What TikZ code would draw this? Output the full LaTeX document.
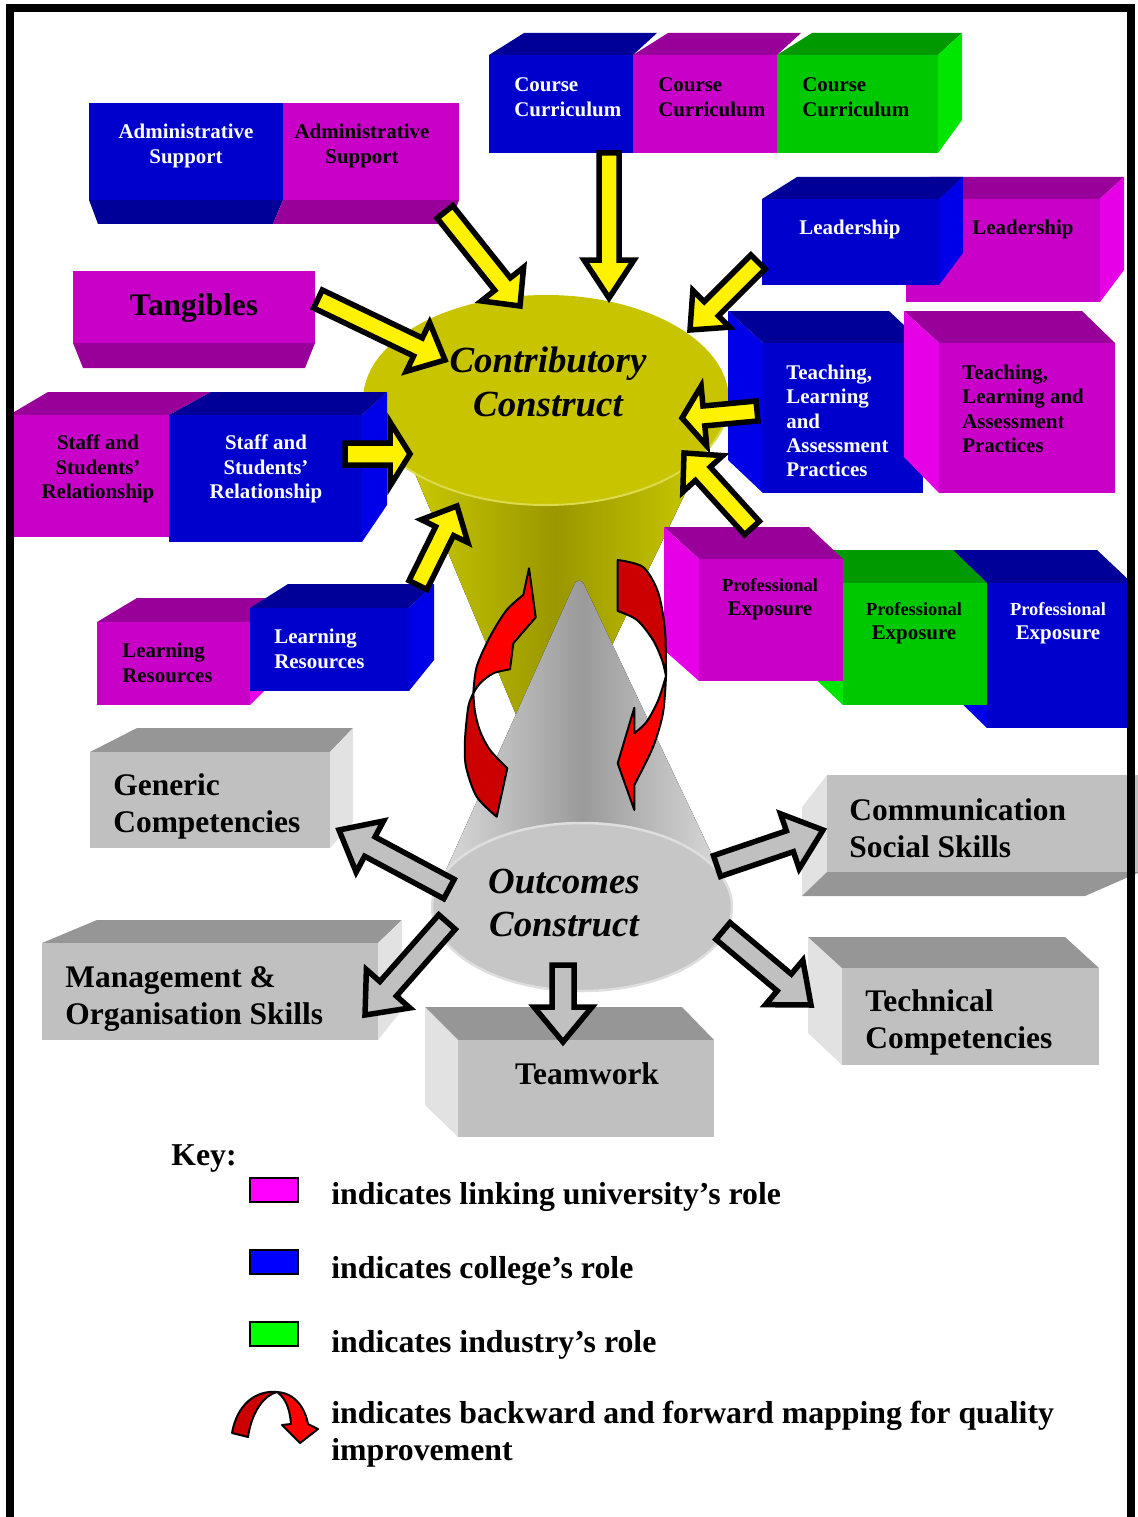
\documentclass[tikz,border=0pt]{standalone}
\usepackage{fontspec}
\setmainfont{Liberation Serif}
\usetikzlibrary{calc}

\definecolor{bFront}{HTML}{0000CC}
\definecolor{bTop}{HTML}{000099}
\definecolor{bSide}{HTML}{0000E8}
\definecolor{mFront}{HTML}{C800C8}
\definecolor{mTop}{HTML}{990099}
\definecolor{mSide}{HTML}{E600E6}
\definecolor{gFront}{HTML}{00C800}
\definecolor{gTop}{HTML}{009900}
\definecolor{gSide}{HTML}{00E600}
\definecolor{sFront}{HTML}{C0C0C0}
\definecolor{sTop}{HTML}{969696}
\definecolor{sSide}{HTML}{E2E2E2}
\definecolor{yTop}{HTML}{C8C400}
\definecolor{yEdge}{HTML}{CCCC00}
\definecolor{yMid}{HTML}{9A9700}
\definecolor{cEdge}{HTML}{DEDEDE}
\definecolor{cMid}{HTML}{9A9A9A}
\definecolor{cBase}{HTML}{C6C6C6}
\definecolor{rDark}{HTML}{CC0000}
\definecolor{rLite}{HTML}{FF0000}
\definecolor{keyM}{HTML}{FF00FF}
\definecolor{keyB}{HTML}{0000FF}
\definecolor{keyG}{HTML}{00FF00}

% block arrow: style, tail, tip, shaft half width, head half width, head length
\newcommand{\bkarrow}[6]{%
  \path ($(#3)!#6!(#2)$) coordinate (hb);
  \draw[#1] ($(#2)!#4!90:(#3)$) -- ($(hb)!#4!90:(#3)$) -- ($(hb)!#5!90:(#3)$) -- (#3)
    -- ($(hb)!#5!-90:(#3)$) -- ($(hb)!#4!-90:(#3)$) -- ($(#2)!#4!-90:(#3)$) -- cycle;}

\begin{document}
\begin{tikzpicture}[x=0.02cm,y=-0.02cm,
  lbl/.style={inner sep=0pt,font=\fontsize{11.9}{13.9}\selectfont\bfseries},
  lblW/.style={lbl,text=white},
  glbl/.style={inner sep=0pt,anchor=west,align=left,font=\fontsize{17.9}{21}\selectfont\bfseries},
  conetext/.style={inner sep=0pt,align=center,font=\fontsize{21}{25}\selectfont\bfseries\itshape},
  keyline/.style={inner sep=0pt,anchor=west,align=left,font=\fontsize{18.1}{21}\selectfont\bfseries},
  yarr/.style={draw=black,fill=yellow,line width=0.11cm},
  garr/.style={draw=black,fill=sFront,line width=0.11cm},
  ribbon/.style={draw=black,line width=0.04cm,line join=round}]
\useasboundingbox (0,0) rectangle (1137,1517);

% contributory cone
\fill[left color=yEdge,right color=yEdge,middle color=yMid] (401,440) -- (545,784) -- (711,440) -- cycle;
\fill[yTop] (546,400) ellipse [x radius=183,y radius=105];
\draw[yEdge!70!white,line width=0.04cm] (729,400) arc [start angle=0,end angle=180,x radius=183,y radius=105];

% administrative support
\fill[bTop] (89,200) -- (283,200) -- (273,224) -- (98,224) -- cycle;
\fill[mTop] (283,200) -- (459,200) -- (450,224) -- (273,224) -- cycle;
\fill[bFront] (89,103) rectangle (283,200);
\fill[mFront] (283,103) rectangle (459,200);
\node[lblW,align=center] (admC) at (186,146) {Administrative\\Support};
\node[lbl,align=center] (admU) at (362,146) {Administrative\\Support};

% tangibles
\fill[mTop] (73,343) -- (315,343) -- (305,368) -- (83,368) -- cycle;
\fill[mFront] (73,271) rectangle (315,343);
\node[lbl,font=\fontsize{17.9}{21}\selectfont\bfseries] (tang) at (194,308) {Tangibles};

% course curriculum
\foreach \x/\w/\col/\t [count=\i] in {489/144/b/white,633/144/m/black,777/161/g/black}{
  \fill[\col Top] (\x,55) -- (\x+35,33) -- (\x+\w+24,33) -- (\x+\w,55) -- cycle;
  \fill[\col Front] (\x,55) rectangle (\x+\w,153);
  \node[lbl,text=\t,align=left,anchor=west] (course\i) at (\x+25,97) {Course\\Curriculum};
}
\fill[gSide] (938,55) -- (962,33) -- (962,120) -- (938,153) -- cycle;

% leadership
\fill[mTop] (930,177) -- (1124,177) -- (1100,199) -- (906,199) -- cycle;
\fill[mSide] (1100,199) -- (1124,177) -- (1124,270) -- (1100,302) -- cycle;
\fill[mFront] (906,199) rectangle (1100,302);
\fill[bTop] (762,199) -- (797,177) -- (963,177) -- (939,199) -- cycle;
\fill[bSide] (939,199) -- (963,177) -- (963,253) -- (939,285) -- cycle;
\fill[bFront] (762,199) rectangle (939,285);
\node[lblW] (leadC) at (850,229) {Leadership};
\node[lbl] (leadU) at (1023,229) {Leadership};

% teaching, learning and assessment
\fill[bTop] (728,311) -- (889,311) -- (923,343) -- (763,343) -- cycle;
\fill[bSide] (728,311) -- (763,343) -- (763,493) -- (728,460) -- cycle;
\fill[bFront] (763,343) rectangle (923,493);
\fill[mTop] (904,311) -- (1082,311) -- (1115,343) -- (939,343) -- cycle;
\fill[mSide] (904,311) -- (939,343) -- (939,493) -- (904,457) -- cycle;
\fill[mFront] (939,343) rectangle (1115,493);
\node[lblW,align=left,anchor=west] (teachC) at (786,421) {Teaching,\\Learning\\and\\Assessment\\Practices};
\node[lbl,align=left,anchor=west] (teachU) at (962,409) {Teaching,\\Learning and\\Assessment\\Practices};

% staff and students
\fill[mTop] (9,415) -- (48,392) -- (211,392) -- (169,415) -- cycle;
\fill[mFront] (9,415) rectangle (169,537);
\fill[bTop] (169,415) -- (211,392) -- (387,392) -- (362,415) -- cycle;
\fill[bSide] (362,415) -- (387,392) -- (387,505) -- (362,542) -- cycle;
\fill[bFront] (169,415) rectangle (362,542);
\node[lbl,align=center] (staffU) at (98,469) {Staff and\\Students’\\Relationship};
\node[lblW,align=center] (staffC) at (266,469) {Staff and\\Students’\\Relationship};

% learning resources
\fill[mTop] (97,622) -- (137,598) -- (288,598) -- (250,622) -- cycle;
\fill[mSide] (250,622) -- (275,598) -- (275,680) -- (250,705) -- cycle;
\fill[mFront] (97,622) rectangle (250,705);
\fill[bTop] (250,608) -- (288,584) -- (434,584) -- (409,608) -- cycle;
\fill[bSide] (409,608) -- (434,584) -- (434,660) -- (409,691) -- cycle;
\fill[bFront] (250,608) rectangle (409,691);
\node[lbl,align=left,anchor=west] (learnU) at (122,663) {Learning\\Resources};
\node[lblW,align=left,anchor=west] (learnC) at (274,649) {Learning\\Resources};

% professional exposure
\fill[bTop] (953,550) -- (1097,550) -- (1132,583) -- (987,583) -- cycle;
\fill[bSide] (953,550) -- (987,583) -- (987,728) -- (953,695) -- cycle;
\fill[bFront] (987,583) rectangle (1132,728);
\fill[gTop] (808,550) -- (953,550) -- (987,583) -- (843,583) -- cycle;
\fill[gSide] (808,550) -- (843,583) -- (843,705) -- (808,672) -- cycle;
\fill[gFront] (843,583) rectangle (987,705);
\fill[mTop] (664,527) -- (809,527) -- (843,559) -- (699,559) -- cycle;
\fill[mSide] (664,527) -- (699,559) -- (699,681) -- (664,650) -- cycle;
\fill[mFront] (699,559) rectangle (843,681);
\node[lbl,align=center] (profU) at (770,599) {{\fontsize{10.5}{13.9}\selectfont Professional}\\Exposure};
\node[lbl,align=center] (profI) at (914,623) {{\fontsize{10.5}{13.9}\selectfont Professional}\\Exposure};
\node[lblW,align=center] (profC) at (1058,623) {{\fontsize{10.5}{13.9}\selectfont Professional}\\Exposure};

% outcomes cone
\fill[left color=cEdge,right color=cEdge,middle color=cMid,rounded corners=0.25cm] (433,899) -- (579,574) -- (733,899) -- cycle;
\fill[cBase] (582,907) ellipse [x radius=150,y radius=84];
\draw[cEdge,line width=0.05cm] (582,907) ellipse [x radius=150,y radius=84];

% outcome boxes
\fill[sTop] (90,752) -- (137,728) -- (353,728) -- (330,752) -- cycle;
\fill[sSide] (330,752) -- (353,728) -- (353,822) -- (330,848) -- cycle;
\fill[sFront] (90,752) rectangle (330,848);
\node[glbl] (generic) at (113,806) {Generic\\Competencies};

\fill[sTop] (42,943) -- (97,920) -- (402,920) -- (378,943) -- cycle;
\fill[sSide] (378,943) -- (402,920) -- (402,1010) -- (378,1040) -- cycle;
\fill[sFront] (42,943) rectangle (378,1040);
\node[glbl] (manage) at (65,999) {Management \&\\Organisation Skills};

\fill[sTop] (425,1007) -- (682,1007) -- (714,1040) -- (458,1040) -- cycle;
\fill[sSide] (425,1007) -- (458,1040) -- (458,1137) -- (425,1105) -- cycle;
\fill[sFront] (458,1040) rectangle (714,1137);
\node[glbl,anchor=center] (team) at (587,1074) {Teamwork};

\fill[sSide] (802,807) -- (827,775) -- (827,872) -- (802,896) -- cycle;
\fill[sTop] (802,896) -- (827,872) -- (1140,872) -- (1085,896) -- cycle;
\fill[sFront] (827,775) rectangle (1140,872);
\node[glbl] (commun) at (849,828) {Communication\\Social Skills};

\fill[sSide] (808,937) -- (842,968) -- (842,1065) -- (808,1033) -- cycle;
\fill[sTop] (808,937) -- (1065,937) -- (1099,968) -- (842,968) -- cycle;
\fill[sFront] (842,968) rectangle (1099,1065);
\node[glbl] (techn) at (865,1022) {Technical\\Competencies};

% mapping ribbons
\filldraw[ribbon,fill=rDark] plot[smooth] coordinates {(496.7,816.7) (476.7,796.7) (466,766.7) (465,740) (468.3,706.7) (473.3,693.3)}
  -- plot[smooth] coordinates {(473.3,693.3) (475,712) (480,731) (490,750) (507.3,768.3)} -- cycle;
\filldraw[ribbon,fill=rLite] plot[smooth] coordinates {(473.3,693.3) (476.7,666.7) (490,636.7) (506.7,610) (523.3,595)}
  -- (529,568.3) -- (535.7,617.3) -- (513.3,643.3) -- (510,669.3)
  -- plot[smooth] coordinates {(510,669.3) (493.3,673.3) (480,683.3) (473.3,693.3)} -- cycle;
\filldraw[ribbon,fill=rDark] plot[smooth] coordinates {(617.7,560) (643,567) (658,592) (665,630) (666,676)}
  -- plot[smooth] coordinates {(666,676) (662,660) (653,640) (637,620) (617.7,611)} -- cycle;
\filldraw[ribbon,fill=rLite] plot[smooth] coordinates {(666,676) (663,713) (653,747) (634.3,785)}
  -- (634.3,810) -- (617.7,763.3) -- (634.3,707.7) -- (634.3,733.3)
  -- plot[smooth] coordinates {(634.3,733.3) (646.7,721.7) (658.3,700) (666,676)} -- cycle;

% arrows into the contributory construct
\coordinate (aAdm) at (445,212);   \coordinate (tAdm) at (520,306);
\coordinate (aCour) at (609,153);  \coordinate (tCour) at (609,298);
\coordinate (aLead) at (758,262);  \coordinate (tLead) at (690,330);
\coordinate (aTang) at (318,299);  \coordinate (tTang) at (445,360);
\coordinate (aTeach) at (757,411); \coordinate (tTeach) at (682,418);
\coordinate (aProf) at (752,528);  \coordinate (tProf) at (684,453);
\coordinate (aStaff) at (345,454); \coordinate (tStaff) at (410,454);
\coordinate (aLearn) at (418,585); \coordinate (tLearn) at (457,506);
\bkarrow{yarr}{aAdm}{tAdm}{0.2cm}{0.54cm}{0.56cm}
\bkarrow{yarr}{aCour}{tCour}{0.2cm}{0.5cm}{0.76cm}
\bkarrow{yarr}{aLead}{tLead}{0.2cm}{0.52cm}{0.6cm}
\bkarrow{yarr}{aTang}{tTang}{0.2cm}{0.54cm}{0.6cm}
\bkarrow{yarr}{aTeach}{tTeach}{0.2cm}{0.6cm}{0.44cm}
\bkarrow{yarr}{aProf}{tProf}{0.2cm}{0.54cm}{0.56cm}
\bkarrow{yarr}{aStaff}{tStaff}{0.22cm}{0.64cm}{0.4cm}
\bkarrow{yarr}{aLearn}{tLearn}{0.2cm}{0.52cm}{0.56cm}

% arrows out of the outcomes construct
\coordinate (oGen) at (449,889);   \coordinate (pGen) at (339,830);
\coordinate (oMan) at (447,922);   \coordinate (pMan) at (365,1015);
\coordinate (oTeam) at (563,965);  \coordinate (pTeam) at (563,1042);
\coordinate (oCom) at (717,866);   \coordinate (pCom) at (823,830);
\coordinate (oTec) at (723,931);   \coordinate (pTec) at (811,1005);
\foreach \a/\b in {oGen/pGen,oMan/pMan,oTeam/pTeam,oCom/pCom,oTec/pTec}
  \bkarrow{garr}{\a}{\b}{0.22cm}{0.58cm}{0.7cm};

\node[conetext] (contrib) at (548,382) {Contributory\\Construct};
\node[conetext] (outcome) at (564,903) {Outcomes\\Construct};

% key
\node[keyline] (key) at (171,1159) {Key:};
\foreach \y/\col/\t [count=\i] in {1190/keyM/linking university’s role,1262/keyB/college’s role,1334/keyG/industry’s role}{
  \filldraw[fill=\col,draw=black,line width=0.03cm] (250,\y-12) rectangle (298,\y+12);
  \node[keyline] (key\i) at (331,\y+\i*2+5) {indicates \t};
}
\filldraw[ribbon,fill=rDark] (232,1433) .. controls (237,1405) and (255,1390) .. (277,1392)
  .. controls (265,1395) and (252,1410) .. (248,1437) -- cycle;
\filldraw[ribbon,fill=rLite] (277,1392) .. controls (295,1393) and (305,1408) .. (308,1424)
  -- (318,1429) -- (300,1443) -- (282,1425) -- (291,1424) .. controls (290,1410) and (286,1398) .. (277,1392) -- cycle;
\node[keyline] (key4) at (331,1434) {indicates backward and forward mapping for quality\\improvement};

% frame
\draw[line width=0.16cm] (10,1530) -- (10,8) -- (1131,8) -- (1131,1530);
\end{tikzpicture}
\end{document}
